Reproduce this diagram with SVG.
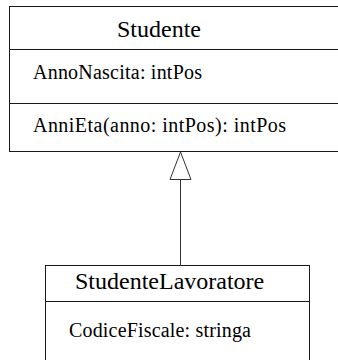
<svg xmlns="http://www.w3.org/2000/svg" width="338" height="360" viewBox="0 0 338 360">
  <style>
    .box { fill: #ffffff; stroke: #1a1a1a; stroke-width: 1; }
    .sep { stroke: #1a1a1a; stroke-width: 1; fill: none; }
    .edge { stroke: #333333; stroke-width: 1; fill: none; }
    .head { fill: #ffffff; stroke: #333333; stroke-width: 1; }
  </style>
  <rect width="338" height="360" fill="#ffffff"/>

  <!-- superclass -->
  <g id="studente">
    <rect class="box" x="9.5" y="6.5" width="340" height="145"/>
    <line class="sep" x1="9.5" y1="49.5" x2="340" y2="49.5"/>
    <line class="sep" x1="9.5" y1="103.5" x2="340" y2="103.5"/>
    <text x="117" y="37" font-family="Liberation Serif" font-size="24">Studente</text>
    <text x="33" y="79" font-family="Liberation Serif" font-size="20" textLength="169">AnnoNascita: intPos</text>
    <text x="33" y="132" font-family="Liberation Serif" font-size="20" textLength="253">AnniEta(anno: intPos): intPos</text>
  </g>

  <!-- subclass -->
  <g id="studente-lavoratore">
    <rect class="box" x="45.5" y="265.5" width="264" height="110"/>
    <line class="sep" x1="45.5" y1="301.5" x2="309.5" y2="301.5"/>
    <text x="75" y="289" font-family="Liberation Serif" font-size="24">StudenteLavoratore</text>
    <text x="69" y="337" font-family="Liberation Serif" font-size="20" textLength="182">CodiceFiscale: stringa</text>
  </g>

  <!-- generalization arrow -->
  <g id="connectors">
    <line class="edge" x1="180.5" y1="265.5" x2="180.5" y2="179.5"/>
    <polygon class="head" points="180.5,152 170,179.5 191,179.5"/>
  </g>
</svg>
